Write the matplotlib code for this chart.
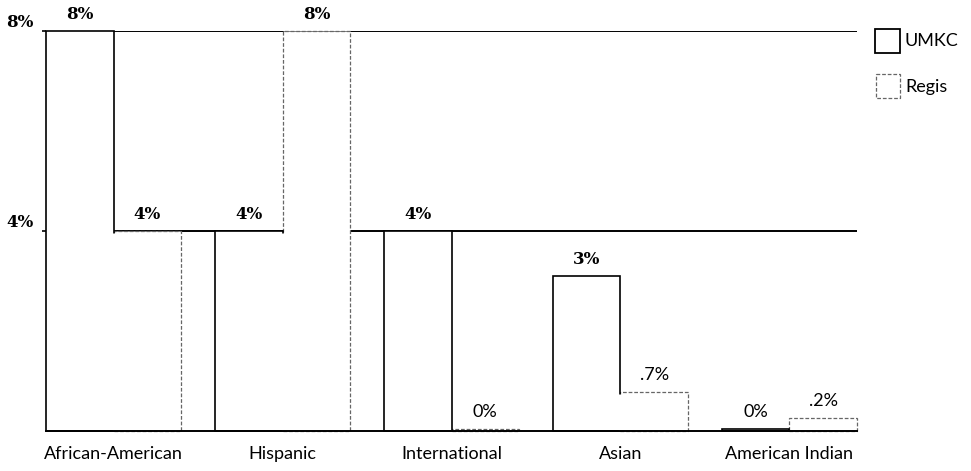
import matplotlib
matplotlib.use("Agg")
import matplotlib.pyplot as plt
import numpy as np

categories = ["African-American", "Hispanic", "International", "Asian", "American Indian"]
umkc = [8.0, 4.0, 4.0, 3.1, 0.05]
regis = [4.0, 8.0, 0.05, 0.78, 0.26]
umkc_labels = ["8%", "4%", "4%", "3%", "0%"]
regis_labels = ["4%", "8%", "0%", ".7%", ".2%"]
yticks = [4, 8]
ytick_labels = ["4%", "8%"]

fig = plt.figure(figsize=(9.71, 4.71), dpi=100)
ax = fig.add_axes([46/971, 40/471, 811/971, 400/471])

pitch = 2.5
xs = np.arange(len(categories)) * pitch
x_u = xs + 0.5
x_r = xs + 1.5

# gridlines behind bars
for yv in yticks:
    ax.axhline(yv, color="black", lw=1.4, zorder=1)

bu = ax.bar(x_u, umkc, width=1.0, facecolor="white", edgecolor="black", lw=1.2, zorder=3)
br = ax.bar(x_r, regis, width=1.0, facecolor="white", edgecolor="#666666", lw=0.9,
            linestyle=(0, (3, 1.5)), zorder=2)
for p in list(bu) + list(br):
    p.set_clip_on(False)

# shared edge between paired bars is hidden below the shorter bar's top
for x, u, r in zip(xs + 1.0, umkc, regis):
    ax.plot([x, x], [0, min(u, r) - 0.03], color="white", lw=2.5, zorder=3.5,
            solid_capstyle="butt")

val_font = dict(family="DejaVu Serif", fontweight="bold", fontsize=12)
small_font = dict(family="Lato", fontsize=13)
for x, v, lab in zip(x_u, umkc, umkc_labels):
    fd = val_font if lab in ("8%", "4%", "3%") else small_font
    ax.text(x, v + 0.33, lab, ha="center", va="center", clip_on=False, **fd)
for x, v, lab in zip(x_r, regis, regis_labels):
    fd = val_font if lab in ("8%", "4%", "3%") else small_font
    ax.text(x, v + 0.33, lab, ha="center", va="center", clip_on=False, **fd)

ax.axhline(0, color="black", lw=1.4, zorder=4, clip_on=False)

ax.set_xlim(0, 12)
ax.set_ylim(0, 8)
ax.set_yticks(yticks)
ax.set_yticklabels(ytick_labels, fontdict=dict(family="DejaVu Serif", weight="bold", size=12))
for t in ax.get_yticklabels():
    t.set_verticalalignment("bottom")
ax.tick_params(axis="y", length=3, width=1.2, pad=6)
ax.set_xticks(xs + 1.0)
ax.set_xticklabels(categories, fontdict=dict(family="Lato", size=13))
ax.tick_params(axis="x", length=0, pad=11)
for s in ax.spines.values():
    s.set_visible(False)

# legend
lax = fig.add_axes([0, 0, 1, 1], facecolor="none")
lax.set_xlim(0, 971)
lax.set_ylim(471, 0)
lax.axis("off")
lax.add_patch(plt.Rectangle((875, 29), 25, 24, facecolor="white", edgecolor="black", lw=1.3))
lax.text(904, 41, "UMKC", va="center", ha="left", family="Lato", fontsize=13)
lax.add_patch(plt.Rectangle((876, 74), 24, 24, facecolor="white", edgecolor="#666666",
                            lw=0.9, linestyle=(0, (3, 1.5))))
lax.text(905, 87, "Regis", va="center", ha="left", family="Lato", fontsize=13)

fig.savefig("out.png", dpi=100)
